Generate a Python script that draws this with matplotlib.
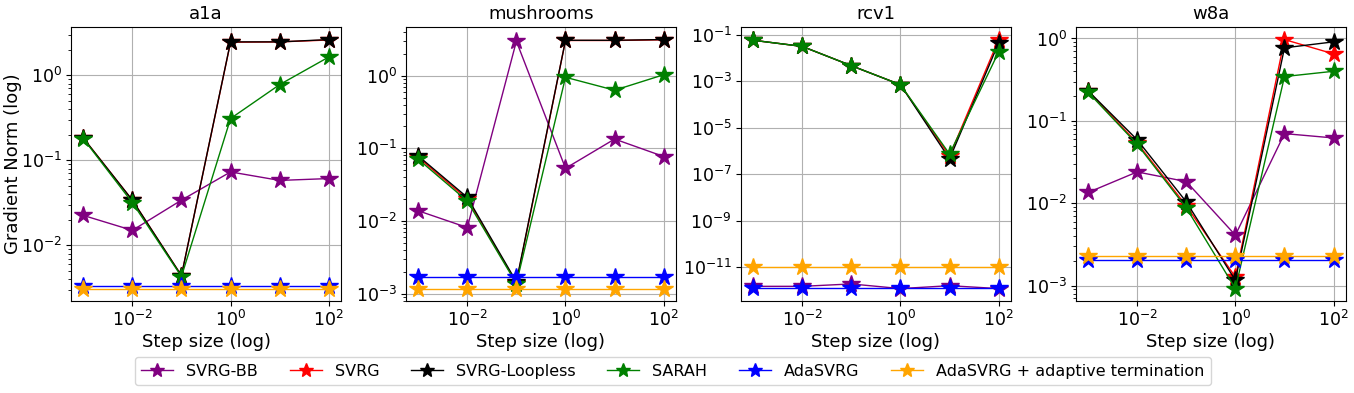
import matplotlib
matplotlib.use('Agg')
import matplotlib.pyplot as plt

step_sizes = [1e-3, 1e-2, 1e-1, 1e0, 1e1, 1e2]

methods = ['SVRG-BB', 'SVRG', 'SVRG-Loopless', 'SARAH', 'AdaSVRG',
           'AdaSVRG + adaptive termination']
colors = ['purple', 'red', 'black', 'green', 'blue', 'orange']

# gradient norm per dataset, one list per method (same order as methods)
a1a = [
    [0.0225, 0.015, 0.034, 0.073, 0.058, 0.061],
    [0.183, 0.034, 0.0044, 2.45, 2.47, 2.60],
    [0.183, 0.034, 0.0044, 2.47, 2.47, 2.63],
    [0.180, 0.0318, 0.0043, 0.31, 0.777, 1.64],
    [0.0033, 0.0033, 0.0033, 0.0033, 0.0033, 0.0033],
    [0.0031, 0.0031, 0.0031, 0.0031, 0.0031, 0.0031],
]
mushrooms = [
    [0.0138, 0.0081, 2.98, 0.053, 0.134, 0.077],
    [0.075, 0.020, 0.0014, 3.05, 3.05, 3.12],
    [0.0786, 0.0211, 0.00145, 3.07, 3.07, 3.14],
    [0.0708, 0.0188, 0.00137, 0.95, 0.63, 1.03],
    [0.0017, 0.0017, 0.0017, 0.0017, 0.0017, 0.0017],
    [0.00117, 0.00117, 0.00117, 0.00117, 0.00117, 0.00117],
]
rcv1 = [
    [1.5e-12, 1.5e-12, 1.9e-12, 1.2e-12, 1.6e-12, 1.2e-12],
    [0.057, 0.031, 0.0046, 0.0007, 6.0e-7, 0.061],
    [0.057, 0.031, 0.0046, 0.0007, 4.5e-7, 0.044],
    [0.057, 0.031, 0.0046, 0.0007, 7.3e-7, 0.018],
    [1.25e-12, 1.25e-12, 1.25e-12, 1.25e-12, 1.25e-12, 1.25e-12],
    [1e-11, 1e-11, 1e-11, 1e-11, 1e-11, 1e-11],
]
w8a = [
    [0.0135, 0.024, 0.0183, 0.0041, 0.070, 0.062],
    [0.23, 0.054, 0.0093, 0.00127, 0.97, 0.65],
    [0.232, 0.059, 0.0104, 0.00116, 0.77, 0.91],
    [0.223, 0.052, 0.0088, 0.00092, 0.345, 0.40],
    [0.00202, 0.00202, 0.00202, 0.00202, 0.00202, 0.00202],
    [0.00226, 0.00226, 0.00226, 0.00226, 0.00226, 0.00226],
]

datasets = ['a1a', 'mushrooms', 'rcv1', 'w8a']
results = [a1a, mushrooms, rcv1, w8a]

fig, axes = plt.subplots(1, 4, figsize=(13.54, 3.93), dpi=100)
plt.subplots_adjust(left=0.0524, right=0.994, top=0.931, bottom=0.234, wspace=0.24)

for ax, name, res in zip(axes, datasets, results):
    for label, color, vals in zip(methods, colors, res):
        ax.plot(step_sizes, vals, color=color, linewidth=1, marker='*',
                markersize=13, label=label)
    ax.set_xscale('log')
    ax.set_yscale('log')
    ax.set_title(name, fontsize=13)
    ax.set_xlabel('Step size (log)', fontsize=13, labelpad=2)
    ax.tick_params(labelsize=12.5, pad=3)
    ax.grid(True)

axes[0].set_ylabel('Gradient Norm (log)', fontsize=13)
axes[0].yaxis.set_label_coords(-0.183, 0.5)

handles, labels = axes[0].get_legend_handles_labels()
fig.legend(handles, labels, loc='lower center', bbox_to_anchor=(0.497, 0.0),
           ncol=6, fontsize=11.5, markerscale=0.8)

plt.savefig('out.png', dpi=100)
